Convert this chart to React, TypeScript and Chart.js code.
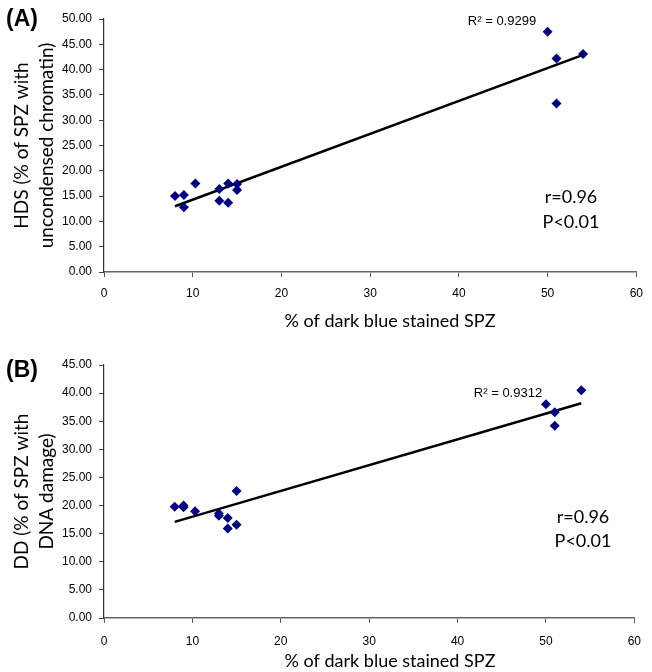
import React, { useEffect, useRef } from "react";
import { Chart, registerables } from "chart.js";

Chart.register(...registerables);

// ---- data ----
const xValues = [8, 9, 9, 10.3, 13, 13, 14, 14, 15, 15, 50, 51, 51, 54];
const hdsValues = [15.0, 15.2, 12.8, 17.5, 16.4, 14.1, 17.5, 13.7, 17.4, 16.2, 47.5, 42.2, 33.3, 43.1];
const ddValues = [19.8, 20.0, 19.7, 19.0, 18.6, 18.2, 17.8, 15.9, 22.6, 16.6, 38.0, 36.6, 34.2, 40.5];
const trendX = [8, 54];
const trendHds = [13.0, 42.9];
const trendDd = [17.1, 38.2];
const xAxisRange = [0, 60, 10];
const hdsAxisRange = [0, 50, 5];
const ddAxisRange = [0, 45, 5];
const xTitle = "% of dark blue stained SPZ";
const hdsTitle = ["HDS (% of SPZ with", "uncondensed chromatin)"];
const ddTitle = ["DD (% of SPZ with", "DNA damage)"];
const hdsStats = ["R² = 0.9299", "r=0.96", "P<0.01"];
const ddStats = ["R² = 0.9312", "r=0.96", "P<0.01"];

const ARIAL = '"Liberation Sans", Arial, sans-serif';
const CALIBRI = 'Lato, "Open Sans", sans-serif';

type TextItem = { text: string; x: number; y: number; font: string; align?: CanvasTextAlign };

function textPlugin(items: TextItem[]) {
  return {
    id: "texts",
    afterDraw(chart: any) {
      const ctx = chart.ctx as CanvasRenderingContext2D;
      ctx.save();
      ctx.fillStyle = "#000";
      ctx.textBaseline = "middle";
      items.forEach((t) => {
        ctx.font = t.font;
        ctx.textAlign = t.align || "center";
        ctx.fillText(t.text, t.x, t.y);
      });
      ctx.restore();
    },
  };
}

type PanelProps = {
  height: number;
  top: number;
  padTop: number;
  xScaleHeight: number;
  xTickPad: number;
  yVals: number[];
  trendY: number[];
  yRange: number[];
  yTitle: string[];
  texts: TextItem[];
};

function Panel(p: PanelProps) {
  const ref = useRef<HTMLCanvasElement | null>(null);
  useEffect(() => {
    if (!ref.current) return;
    const points = xValues.map((x, i) => ({ x, y: p.yVals[i] }));
    const trend = trendX.map((x, i) => ({ x, y: p.trendY[i] }));
    const chart = new Chart(ref.current, {
      type: "scatter",
      data: {
        datasets: [
          {
            data: points,
            pointStyle: "rectRot",
            pointRadius: 5,
            pointHoverRadius: 5,
            backgroundColor: "#000080",
            borderColor: "#000080",
            borderWidth: 0,
            order: 1,
          },
          {
            data: trend,
            showLine: true,
            borderColor: "#000",
            borderWidth: 2.5,
            pointRadius: 0,
            fill: false,
            order: 2,
          },
        ],
      },
      options: {
        responsive: false,
        animation: false,
        devicePixelRatio: 1,
        events: [],
        layout: { padding: { top: p.padTop, right: 8, left: 0, bottom: 0 } },
        plugins: { legend: { display: false }, tooltip: { enabled: false } },
        scales: {
          x: {
            type: "linear",
            min: xAxisRange[0],
            max: xAxisRange[1],
            ticks: {
              stepSize: xAxisRange[2],
              color: "#000",
              font: { family: ARIAL, size: 12 },
              padding: p.xTickPad,
              maxRotation: 0,
            },
            grid: { drawOnChartArea: false, drawTicks: true, tickLength: 5, tickColor: "#555" },
            border: { color: "#666", width: 1.5 },
            title: { display: false, text: xTitle },
            afterFit: (s: any) => {
              s.height = p.xScaleHeight;
            },
          },
          y: {
            type: "linear",
            min: p.yRange[0],
            max: p.yRange[1],
            ticks: {
              stepSize: p.yRange[2],
              color: "#000",
              font: { family: ARIAL, size: 12 },
              padding: 7,
              callback: (v: any) => Number(v).toFixed(2),
            },
            grid: { drawOnChartArea: false, drawTicks: true, tickLength: 5, tickColor: "#444" },
            border: { color: "#333", width: 1.2 },
            title: {
              display: true,
              text: p.yTitle,
              color: "#000",
              font: { family: CALIBRI, size: 19, lineHeight: 1.3 },
              padding: { top: 10, bottom: 0 },
            },
            afterFit: (s: any) => {
              s.width = 104;
            },
          },
        },
      },
      plugins: [textPlugin(p.texts)],
    } as any);
    return () => chart.destroy();
  }, []);
  return (
    <canvas
      ref={ref}
      width={652}
      height={p.height}
      style={{ position: "absolute", left: 0, top: p.top, width: 652, height: p.height }}
    />
  );
}

export default function App() {
  return (
    <div
      style={{
        position: "absolute",
        left: 0,
        top: 0,
        width: 652,
        height: 672,
        background: "#fff",
        overflow: "hidden",
      }}
    >
      <Panel
        height={336}
        top={0}
        padTop={19}
        xScaleHeight={64}
        xTickPad={9}
        yVals={hdsValues}
        trendY={trendHds}
        yRange={hdsAxisRange}
        yTitle={hdsTitle}
        texts={[
          { text: "(A)", x: 6, y: 20, font: `bold 23px ${ARIAL}`, align: "left" },
          { text: hdsStats[0], x: 502, y: 21, font: `13px ${ARIAL}` },
          { text: hdsStats[1], x: 571, y: 197, font: `18px ${CALIBRI}` },
          { text: hdsStats[2], x: 571, y: 222, font: `18px ${CALIBRI}` },
          { text: xTitle, x: 390, y: 321, font: `18px ${CALIBRI}` },
        ]}
      />
      <Panel
        height={336}
        top={336}
        padTop={29}
        xScaleHeight={54}
        xTickPad={11}
        yVals={ddValues}
        trendY={trendDd}
        yRange={ddAxisRange}
        yTitle={ddTitle}
        texts={[
          { text: "(B)", x: 6, y: 35, font: `bold 23px ${ARIAL}`, align: "left" },
          { text: ddStats[0], x: 508, y: 57, font: `13px ${ARIAL}` },
          { text: ddStats[1], x: 583, y: 181, font: `18px ${CALIBRI}` },
          { text: ddStats[2], x: 583, y: 205, font: `18px ${CALIBRI}` },
          { text: xTitle, x: 390, y: 325, font: `18px ${CALIBRI}` },
        ]}
      />
    </div>
  );
}
